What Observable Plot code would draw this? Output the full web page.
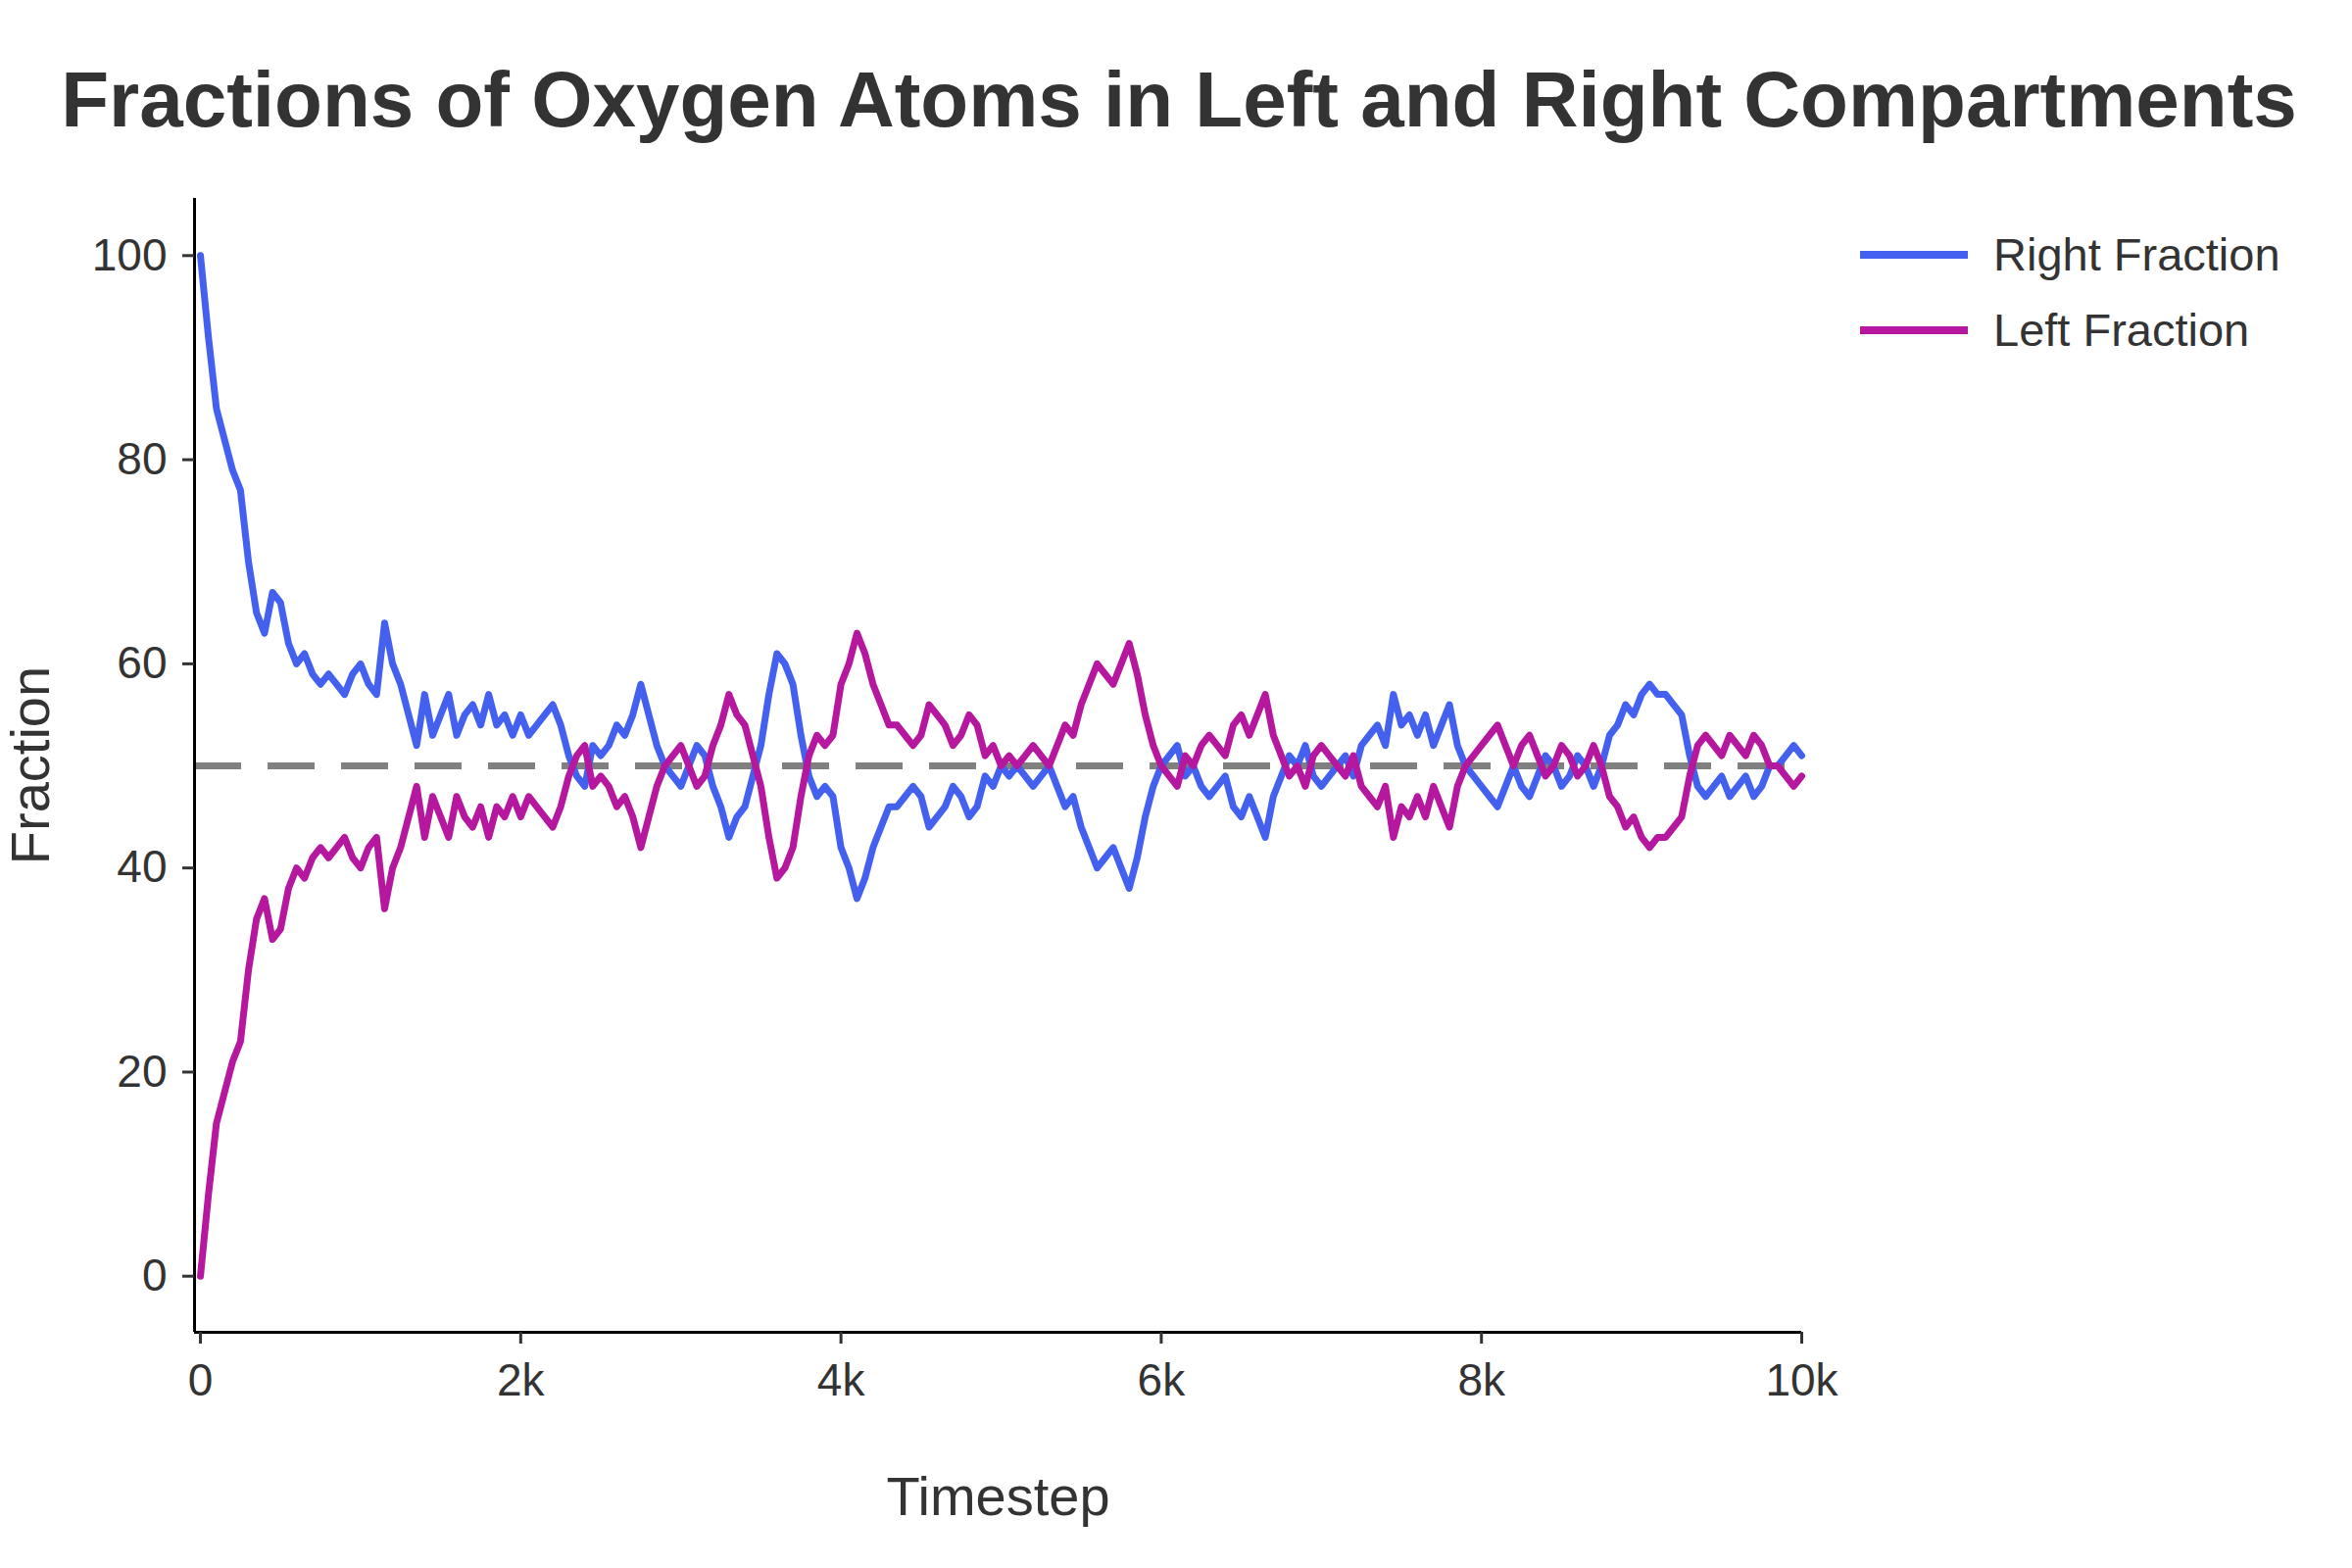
<!DOCTYPE html>
<html>
<head>
<meta charset="utf-8">
<script src="https://cdn.jsdelivr.net/npm/d3@7"></script>
<script src="https://cdn.jsdelivr.net/npm/@observablehq/plot@0.6"></script>
<style>
  body { margin: 0; background: #fff; font-family: "Liberation Sans", Arial, sans-serif; color: #333; }
  #wrap { position: relative; width: 2400px; height: 1600px; }
  #title { position: absolute; left: 0; width: 2406px; top: 56px; text-align: center; font-size: 80px; font-weight: bold; color: #333; }
  .leg { position: absolute; left: 1898px; font-size: 47px; color: #333; display: flex; align-items: center; }
  .leg span.sw { display: inline-block; width: 110px; height: 8px; margin-right: 26px; }
  #chart { position: absolute; left: 0; top: 0; }
</style>
</head>
<body>
<div id="wrap">
  <div id="chart"></div>
  <div id="title">Fractions of Oxygen Atoms in Left and Right Compartments</div>
  <div class="leg" style="top:232px"><span class="sw" style="background:#4361ee"></span>Right Fraction</div>
  <div class="leg" style="top:309px"><span class="sw" style="background:#b5179e"></span>Left Fraction</div>
</div>
<script>
// timesteps sampled every 50 steps
const timesteps = d3.range(0, 10001, 50);

const rightFraction = [
  100,92,85,82,79,77,70,65,63,67,66,62,60,61,59,58,59,58,57,59,60,
  58,57,64,60,58,55,52,57,53,55,57,53,55,56,54,57,54,55,53,55,
  53,54,55,56,54,51,49,48,52,51,52,54,53,55,58,55,52,50,49,48,
  50,52,51,48,46,43,45,46,49,52,57,61,60,58,53,49,47,48,47,42,
  40,37,39,42,44,46,46,47,48,47,44,45,46,48,47,45,46,49,48,50,
  49,50,49,48,49,50,48,46,47,44,42,40,41,42,40,38,41,45,48,50,
  51,52,49,50,48,47,48,49,46,45,47,45,43,47,49,51,50,52,49,48,
  49,50,51,49,52,53,54,52,57,54,55,53,55,52,54,56,52,50,49,48,
  47,46,48,50,48,47,49,51,50,48,49,51,50,48,50,53,54,56,55,57,
  58,57,57,56,55,51,48,47,48,49,47,48,49,47,48,50,50,51,52,51
];

const leftFraction = [
  0,8,15,18,21,23,30,35,37,33,34,38,40,39,41,42,41,42,43,41,40,
  42,43,36,40,42,45,48,43,47,45,43,47,45,44,46,43,46,45,47,45,
  47,46,45,44,46,49,51,52,48,49,48,46,47,45,42,45,48,50,51,52,
  50,48,49,52,54,57,55,54,51,48,43,39,40,42,47,51,53,52,53,58,
  60,63,61,58,56,54,54,53,52,53,56,55,54,52,53,55,54,51,52,50,
  51,50,51,52,51,50,52,54,53,56,58,60,59,58,60,62,59,55,52,50,
  49,48,51,50,52,53,52,51,54,55,53,55,57,53,51,49,50,48,51,52,
  51,50,49,51,48,47,46,48,43,46,45,47,45,48,46,44,48,50,51,52,
  53,54,52,50,52,53,51,49,50,52,51,49,50,52,50,47,46,44,45,43,
  42,43,43,44,45,49,52,53,52,51,53,52,51,53,52,50,50,49,48,49
];

const xTicks = [0, 2000, 4000, 6000, 8000, 10000];
const xTickLabels = ["0", "2k", "4k", "6k", "8k", "10k"];
const yTicks = [0, 20, 40, 60, 80, 100];
const equilibrium = 50;

const rows = [
  ...timesteps.map((t, i) => ({t, v: rightFraction[i], s: "Right Fraction"})),
  ...timesteps.map((t, i) => ({t, v: leftFraction[i], s: "Left Fraction"}))
];

const xDomain = [-37, 10000];
const yDomain = [-5.5, 105.6];

const chart = Plot.plot({
  width: 2400,
  height: 1600,
  marginLeft: 198,
  marginRight: 562,
  marginTop: 202,
  marginBottom: 241,
  style: {fontFamily: "Liberation Sans, Arial, sans-serif", fontSize: "46px", color: "#333", background: "transparent"},
  x: {domain: xDomain},
  y: {domain: yDomain},
  color: {domain: ["Right Fraction", "Left Fraction"], range: ["#4361ee", "#b5179e"]},
  marks: [
    Plot.ruleY([equilibrium], {stroke: "#808080", strokeWidth: 7, strokeDasharray: "48,27"}),
    Plot.line(rows, {x: "t", y: "v", z: "s", stroke: "s", strokeWidth: 7}),
    Plot.ruleX([xDomain[0]], {stroke: "#000", strokeWidth: 3}),
    Plot.ruleY([yDomain[0]], {stroke: "#000", strokeWidth: 3}),
    Plot.axisX({ticks: xTicks, tickFormat: (d, i) => xTickLabels[i], tickSize: 12, tickPadding: 20, strokeWidth: 3, fill: "#333", fontSize: 46, label: null}),
    Plot.axisY({ticks: yTicks, tickSize: 12, tickPadding: 16, strokeWidth: 3, fill: "#333", fontSize: 46, label: null}),
    Plot.text(["Timestep"], {frameAnchor: "bottom", dy: 186, fontSize: 56, fill: "#333"}),
    Plot.text(["Fraction"], {frameAnchor: "left", dx: -166, rotate: -90, textAnchor: "middle", fontSize: 56, fill: "#333"})
  ]
});
document.getElementById("chart").append(chart);
</script>
</body>
</html>
